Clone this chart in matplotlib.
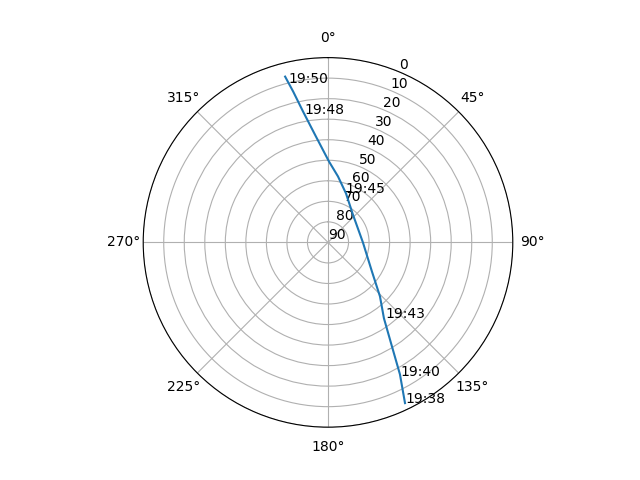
import numpy as np
import matplotlib
matplotlib.use("Agg")
import matplotlib.pyplot as plt

# ----- pass track (azimuth / elevation in degrees) -----

track_az = [154.4, 151.4, 148.4, 143.6, 136.1, 123.4, 90.0, 41.8, 20.2,
            8.6, 0.7, 353.5, 349.2, 347.0, 345.5]
track_el = [3.2, 16.8, 30.6, 44.1, 53.5, 64.4, 73.0, 71.8, 64.6,
            57.5, 50.6, 38.1, 25.1, 14.6, 6.6]

# ----- time labels along the pass -----

label_text = ["19:38", "19:40", "19:43", "19:45", "19:48", "19:50"]
label_az = [154.4, 151.4, 143.1, 19.0, 349.5, 346.0]
label_el = [3.2, 15.8, 43.8, 64.6, 26.2, 9.8]

theta = np.unwrap(np.radians(track_az))

fig = plt.figure(figsize=(6.4, 4.8), dpi=100)
ax = fig.add_subplot(111, projection="polar")
ax.set_theta_zero_location("N")
ax.set_theta_direction(-1)

ax.plot(theta, track_el)

for txt, a, e in zip(label_text, label_az, label_el):
    ax.text(np.radians(a), e, txt)

ax.set_rlim(90, 0)
ax.set_yticks(range(0, 91, 10))
ax.grid(True)

plt.savefig("out.png")
